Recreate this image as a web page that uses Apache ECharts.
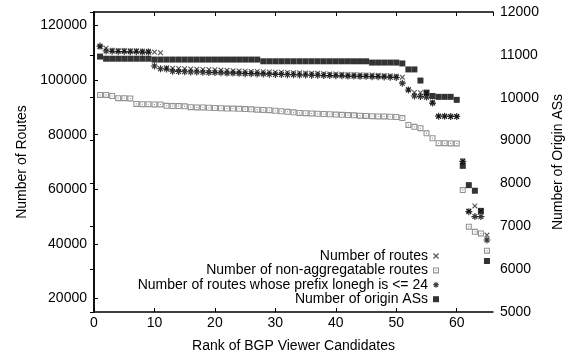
<!DOCTYPE html>
<html>
<head>
<meta charset="utf-8">
<script src="https://cdn.jsdelivr.net/npm/echarts@6/dist/echarts.min.js"></script>
<style>
  html, body { margin: 0; padding: 0; background: #fff; }
  #chart { width: 573px; height: 358px; }
</style>
</head>
<body>
<div id="chart"></div>
<script>
// Rank of each BGP viewer candidate (x axis)
const ranks = [
  1, 2, 3, 4, 5, 6, 7, 8, 9, 10, 11, 12, 13, 14, 15, 16, 17, 18, 19, 20,
  21, 22, 23, 24, 25, 26, 27, 28, 29, 30, 31, 32, 33, 34, 35, 36, 37, 38, 39, 40,
  41, 42, 43, 44, 45, 46, 47, 48, 49, 50, 51, 52, 53, 54, 55, 56, 57, 58, 59, 60,
  61, 62, 63, 64, 65
];

// Number of routes (left axis)
const routes = [
  112200, 111700, 111000, 110900, 110900, 110800, 110800, 110700, 110600, 110300,
  110100, 104600, 104400, 104300, 104200, 104100, 104000, 103900, 103900, 103800,
  103700, 103600, 103500, 103400, 103300, 103200, 103200, 103100, 103000, 102900,
  102900, 102800, 102700, 102700, 102600, 102500, 102500, 102400, 102300, 102300,
  102200, 102100, 102100, 102000, 101900, 101900, 101800, 101700, 101600, 101500,
  101100, 96600, 95500, 95400, 95300, 92000, 86800, 86800, 86700, 86700,
  70500, 52000, 53900, 52000, 43200
];

// Number of non-aggregatable routes (left axis)
const nonAggregatable = [
  94600, 94600, 94200, 93400, 93400, 93300, 91300, 91200, 91200, 91100,
  91100, 90600, 90500, 90500, 90400, 90100, 90000, 90000, 89900, 89800,
  89700, 89600, 89600, 89500, 89400, 89300, 89200, 89100, 89000, 88800,
  88600, 88400, 88200, 88000, 87900, 87800, 87700, 87600, 87500, 87400,
  87300, 87200, 87100, 87000, 86900, 86800, 86700, 86700, 86600, 86500,
  86100, 83600, 82900, 82400, 80500, 78700, 76900, 76900, 76800, 76800,
  59700, 46300, 44400, 43800, 37500
];

// Number of routes whose prefix length is <= 24 (left axis)
const shortPrefixRoutes = [
  112500, 110700, 110600, 110500, 110500, 110400, 110400, 110300, 110300, 105200,
  104200, 104100, 103300, 103200, 103100, 103000, 103000, 102900, 102800, 102800,
  102700, 102600, 102600, 102500, 102400, 102400, 102300, 102300, 102200, 102100,
  102100, 102000, 102000, 101900, 101900, 101800, 101800, 101700, 101700, 101600,
  101600, 101500, 101500, 101400, 101400, 101300, 101300, 101200, 101100, 101000,
  98900, 96400, 94200, 94000, 93800, 91600, 86800, 86800, 86700, 86700,
  70200, 51800, 50000, 50000, 41400
];

// Number of origin ASs (right axis)
const originASes = [
  10960, 10910, 10910, 10910, 10910, 10910, 10910, 10910, 10910, 10890,
  10890, 10890, 10890, 10890, 10890, 10890, 10890, 10890, 10890, 10890,
  10890, 10890, 10890, 10890, 10890, 10890, 10890, 10850, 10850, 10850,
  10850, 10850, 10850, 10850, 10850, 10850, 10850, 10850, 10850, 10850,
  10850, 10850, 10850, 10850, 10850, 10820, 10820, 10820, 10820, 10820,
  10800, 10660, 10660, 10400, 10120, 10040, 10020, 10020, 10020, 9950,
  8410, 7960, 7830, 7360, 6190
];

const seriesNames = [
  'Number of routes',
  'Number of non-aggregatable routes',
  'Number of routes whose prefix lonegh is <= 24',
  'Number of origin ASs'
];

// point glyphs in the gnuplot style
const CROSS = 'path://M0,1.5L1.5,0L10,8.5L8.5,10Z M8.5,0L10,1.5L1.5,10L0,8.5Z';
const BOXDOT = 'path://M0,0H10V10H0Z M1.8,1.8V8.2H8.2V1.8Z M4.1,4.1H5.9V5.9H4.1Z';
const STAR = 'path://M4.15,0H5.85V10H4.15Z M0,4.15H10V5.85H0Z M1,2.2L2.2,1L9,7.8L7.8,9Z M7.8,1L9,2.2L2.2,9L1,7.8Z';

const FONT = 'Liberation Sans, Arial, Helvetica, sans-serif';

function pairs(values) {
  return ranks.map((r, i) => [r, values[i]]);
}

const plain = v => String(v);

const chart = echarts.init(document.getElementById('chart'), null, { renderer: 'canvas' });

chart.setOption({
  animation: false,
  backgroundColor: '#fff',
  textStyle: { fontFamily: FONT },
  grid: { left: 94, right: 80, top: 12, bottom: 46, containLabel: false },
  legend: {
    orient: 'vertical',
    align: 'right',
    right: 134,
    top: 249,
    padding: 0,
    itemGap: 0.4,
    itemWidth: 6,
    itemHeight: 6,
    selectedMode: false,
    textStyle: { color: '#000', fontSize: 14, fontFamily: FONT, lineHeight: 14 },
    data: seriesNames
  },
  xAxis: [
    {
      type: 'value',
      position: 'bottom',
      min: 0,
      max: 66,
      interval: 10,
      name: 'Rank of BGP Viewer Candidates',
      nameLocation: 'middle',
      nameGap: 27,
      nameTextStyle: { color: '#000', fontSize: 14, fontFamily: FONT },
      axisLine: { lineStyle: { color: '#000', width: 1.5 } },
      axisTick: { inside: true, length: 4, lineStyle: { color: '#000', width: 1 } },
      axisLabel: { color: '#000', fontSize: 14, fontFamily: FONT, margin: 4, showMaxLabel: false, formatter: plain },
      splitLine: { show: false }
    },
    {
      type: 'value',
      position: 'top',
      min: 0,
      max: 66,
      interval: 10,
      axisLine: { lineStyle: { color: '#000', width: 1.5 } },
      axisTick: { inside: true, length: 4, lineStyle: { color: '#000', width: 1 } },
      axisLabel: { show: false },
      splitLine: { show: false }
    }
  ],
  yAxis: [
    {
      type: 'value',
      position: 'left',
      min: 15000,
      max: 125000,
      splitNumber: 5,
      name: 'Number of Routes',
      nameLocation: 'middle',
      nameRotate: 90,
      nameGap: 65,
      nameTextStyle: { color: '#000', fontSize: 14, fontFamily: FONT },
      axisLine: { show: true, lineStyle: { color: '#000', width: 1.5 } },
      axisTick: { show: true, inside: true, length: 4, lineStyle: { color: '#000', width: 1 } },
      axisLabel: { color: '#000', fontSize: 14, fontFamily: FONT, margin: 7, showMinLabel: false, showMaxLabel: false, formatter: plain },
      splitLine: { show: false }
    },
    {
      type: 'value',
      position: 'right',
      min: 5000,
      max: 12000,
      interval: 1000,
      name: 'Number of Origin ASs',
      nameLocation: 'middle',
      nameRotate: 90,
      nameGap: 58,
      nameTextStyle: { color: '#000', fontSize: 14, fontFamily: FONT },
      axisLine: { show: true, lineStyle: { color: '#000', width: 1.5 } },
      axisTick: { show: true, inside: true, length: 4, lineStyle: { color: '#000', width: 1 } },
      axisLabel: { color: '#000', fontSize: 14, fontFamily: FONT, margin: 7, formatter: plain },
      splitLine: { show: false }
    }
  ],
  series: [
    {
      name: seriesNames[0],
      type: 'scatter',
      xAxisIndex: 0,
      yAxisIndex: 0,
      symbol: CROSS,
      symbolSize: 5.5,
      itemStyle: { color: '#333' },
      data: pairs(routes)
    },
    {
      name: seriesNames[1],
      type: 'scatter',
      xAxisIndex: 0,
      yAxisIndex: 0,
      symbol: BOXDOT,
      symbolSize: 6,
      itemStyle: { color: '#777' },
      data: pairs(nonAggregatable)
    },
    {
      name: seriesNames[2],
      type: 'scatter',
      xAxisIndex: 0,
      yAxisIndex: 0,
      symbol: STAR,
      symbolSize: 7,
      itemStyle: { color: '#000' },
      data: pairs(shortPrefixRoutes)
    },
    {
      name: seriesNames[3],
      type: 'scatter',
      xAxisIndex: 0,
      yAxisIndex: 1,
      symbol: 'rect',
      symbolSize: 6,
      itemStyle: { color: '#000' },
      data: pairs(originASes)
    }
  ]
});
</script>
</body>
</html>
